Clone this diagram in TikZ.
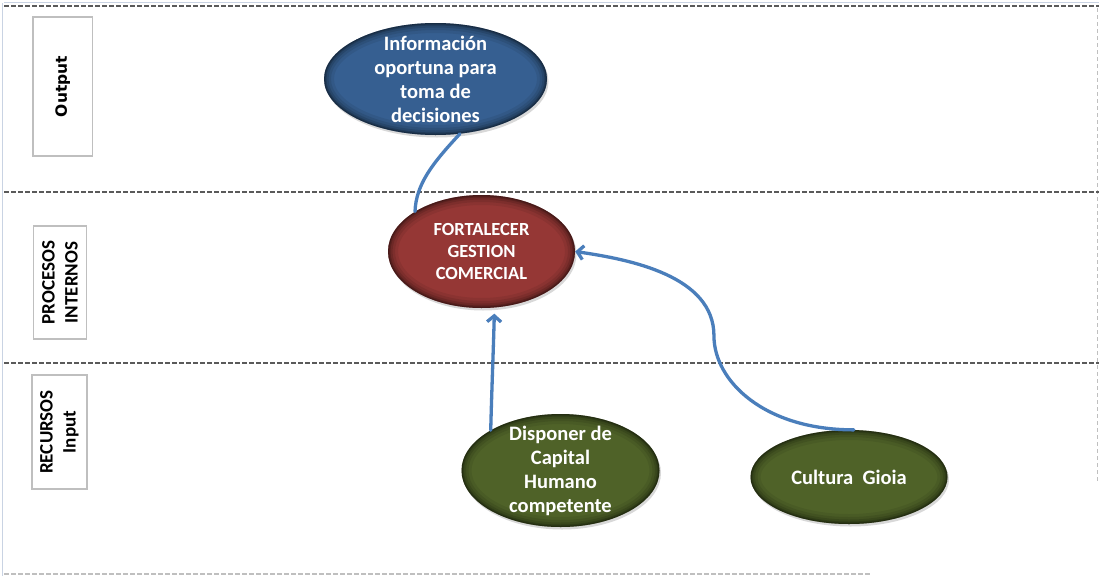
\documentclass[tikz,border=0pt]{standalone}
\usepackage{fontspec}
\setmainfont{Carlito}
\newfontfamily\verd{DejaVu Sans}
\usetikzlibrary{shapes.geometric,arrows.meta,calc,shadows}
\definecolor{bluefill}{HTML}{365F91}
\definecolor{redfill}{HTML}{953735}
\definecolor{greenfill}{HTML}{4F6228}
\definecolor{arrowblue}{HTML}{4A7EBB}
\definecolor{boxgray}{HTML}{BFBFBF}
\definecolor{dashgray}{HTML}{5A5A5A}
\definecolor{edgeblue}{HTML}{C9D3E3}
\tikzset{
  rim/.style={path picture={
    \coordinate (pc) at (path picture bounding box.center);
    \coordinate (pne) at (path picture bounding box.north east);
    \foreach \ww/\oo in {20/0.07,14/0.09,9/0.12,5/0.16,2.5/0.22}{
      \draw[line width=\ww pt, black, opacity=\oo] let \p1=($(pne)-(pc)$) in (pc) ellipse [x radius=\x1, y radius=\y1];
    }
  }},
  oval/.style={ellipse, inner sep=0pt, fill=#1, rim,
    drop shadow={shadow xshift=1.5pt, shadow yshift=-2.5pt, opacity=0.3}},
  ovaltext/.style={text=white, align=center, inner sep=0pt, font=\bfseries\fontsize{20.5}{24}\selectfont},
  lanebox/.style={draw=boxgray, line width=1.4pt, fill=white, rotate=90, align=center, inner sep=0pt,
    font=\bfseries\fontsize{19}{23}\selectfont},
  lane/.style={dashgray, line width=1.6pt, dash pattern=on 4.5pt off 2.5pt},
  conn/.style={arrowblue, line width=3.3pt, line cap=round},
  tip/.style={-{Straight Barb[length=6pt,width=14pt]}}
}
\begin{document}
\begin{tikzpicture}[x=1pt,y=-1pt]
\useasboundingbox[fill=white] (0,0) rectangle (1099,576);
% frame and lanes
\draw[edgeblue, line width=1pt] (4,2.5) -- (1099,2.5);
\draw[edgeblue, line width=1pt] (2,3) -- (2,576);
\draw[lane] (4,6) -- (1099,6);
\draw[boxgray, line width=1.4pt, dash pattern=on 4pt off 3pt] (1097.5,8) -- (1097.5,483);
\draw[lane] (4,192) -- (1099,192);
\draw[lane] (4,363) -- (1099,363);
\draw[lane, color=boxgray] (4,574) -- (872,574);
% lane labels
\node[lanebox, minimum width=139pt, minimum height=59.5pt, font=\verd\bfseries\fontsize{15.5}{18}\selectfont] (out) at (62.75,86.5) {Output};
\node[lanebox, minimum width=113pt, minimum height=53pt] (proc) at (60,282.5) {PROCESOS\\INTERNOS};
\node[lanebox, minimum width=114pt, minimum height=55pt] (rec) at (59.5,432) {RECURSOS\\Input};
% ovals
\node[oval=bluefill, minimum width=223pt, minimum height=112pt] (info) at (435.5,79) {};
\node[ovaltext] (infot) at (info.center) {Información\\oportuna para\\toma de\\decisiones};
\node[oval=redfill, minimum width=187pt, minimum height=113pt] (gest) at (481.5,251.5) {};
\node[ovaltext, font=\bfseries\fontsize{18.5}{22}\selectfont] (gestt) at (gest.center) {FORTALECER\\GESTION\\COMERCIAL};
\node[oval=greenfill, minimum width=198pt, minimum height=113pt] (cap) at (560.5,470.5) {};
\node[ovaltext] (capt) at (cap.center) {Disponer de\\Capital\\Humano\\competente};
\node[oval=greenfill, minimum width=197pt, minimum height=94pt] (cult) at (849,477) {};
\node[ovaltext] (cultt) at (cult.center) {Cultura\ \ Gioia};
% connectors
\draw[conn] (info.-66) .. controls +(-28,30) and +(1,-27) .. (gest.149);
\draw[conn, tip, shorten >=6pt] (cap.150) .. controls +(1,-40) and +(-1,40) .. (gest.-77);
\draw[conn, tip] (cult.84) .. controls +(-90,0) and +(0,45) .. ++(-140,-94)
  .. controls +(0,-60) and +(55,8) .. (gest.east);
\end{tikzpicture}
\end{document}
